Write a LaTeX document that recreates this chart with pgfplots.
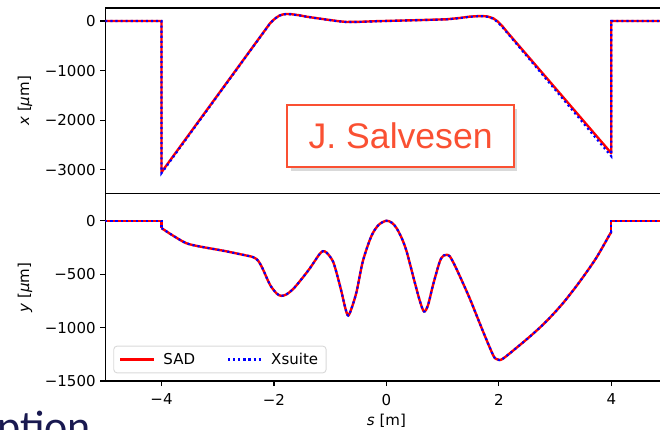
\documentclass[border=0pt]{standalone}
\usepackage{pgfplots}
\pgfplotsset{compat=1.18}
\usepackage{fontspec}
\setmainfont{DejaVu Sans}
\newfontfamily\salfont{Liberation Sans}
\newfontfamily\slidefont{Carlito}
\usetikzlibrary{shadows}
\definecolor{salred}{RGB}{250,80,50}
\definecolor{navy}{RGB}{25,25,80}

\pgfplotsset{
  myaxis/.style={
    scale only axis, width=421.65pt, xmin=-5, xmax=5,
    tick pos=left, tick align=outside, major tick length=3.75pt,
    every tick/.style={black, line width=0.8pt},
    axis line style={black, line width=0.8pt},
    tick label style={font=\fontsize{11.25}{13}\selectfont},
    every axis y label/.style={at={(axis description cs:-0.1428,0.5)}, rotate=90, anchor=center,
      font=\fontsize{11.25}{13}\selectfont},
  },
  sad/.style={red, line width=1.8pt, line join=round},
  xs/.style={color=blue, line width=1.6pt, dash pattern=on 1.6pt off 2.2pt},
}

\begin{document}
\begin{tikzpicture}
% ---------- top panel ----------
\begin{axis}[myaxis,
  at={(78.98pt,176.48pt)}, anchor=south west, height=139.28pt,
  ymin=-3484, ymax=262,
  xtick=\empty,
  ytick={-3000,-2000,-1000,0}, yticklabels={−3000,−2000,−1000,0},
  ylabel={{\itshape x} [{\itshape μ}m]},
]
\addplot[sad] coordinates {
(-5,0) (-4,0) (-4,-3050) (-2.07,-47) (-2.02,10) (-1.96,67) (-1.9,110) (-1.84,132)
(-1.78,141) (-1.7,138) (-1.55,115) (-1.42,87) (-1.2,50) (-1.01,20) (-0.85,-5)
(-0.71,-20) (-0.5,-18) (-0.2,-5) (0.18,6) (0.6,18) (1.07,34) (1.3,60) (1.48,87)
(1.62,97) (1.71,100) (1.8,90) (1.90,54) (1.98,-10) (2.07,-115) (2.13,-200)
(4,-2668) (4,0) (5,0)};
\addplot[xs] coordinates {
(-5,0) (-4,0) (-4,-3070) (-2.07,-50) (-2.02,8) (-1.96,65) (-1.9,108) (-1.84,130)
(-1.78,139) (-1.7,136) (-1.55,113) (-1.42,85) (-1.2,48) (-1.01,18) (-0.85,-7)
(-0.71,-22) (-0.5,-20) (-0.2,-7) (0.18,4) (0.6,16) (1.07,32) (1.3,57) (1.48,84)
(1.62,94) (1.71,96) (1.8,84) (1.90,44) (1.98,-25) (2.07,-135) (2.13,-215)
(4,-2730) (4,0) (5,0)};
\end{axis}
% ---------- bottom panel ----------
\begin{axis}[myaxis,
  at={(78.98pt,36pt)}, anchor=south west, height=140.48pt,
  ymin=-1500, ymax=253,
  xtick={-4,-2,0,2,4}, xticklabels={−4,−2,0,2,4},
  xticklabel style={yshift=-2.5pt},
  ytick={-1500,-1000,-500,0}, yticklabels={−1500,−1000,−500,0},
  ylabel={{\itshape y} [{\itshape μ}m]},
  xlabel={{\itshape s} [m]},
  every axis x label/.style={at={(axis description cs:0.5,-0.212)}, anchor=center,
    font=\fontsize{11.25}{13}\selectfont},
  legend columns=2,
  legend style={at={(axis description cs:0.0142,0.041)}, anchor=south west,
    draw=black!15, rounded corners=2.5pt, fill=white, fill opacity=0.8, text opacity=1,
    draw opacity=1,
    line width=0.7pt, font=\fontsize{11.25}{13}\selectfont,
    inner xsep=4pt, inner ysep=3pt,
    /tikz/every even column/.append style={column sep=22pt}},
  legend image code/.code={\draw[#1, opacity=1] (0pt,0pt) -- (25.5pt,0pt); \path (29.5pt,0pt);},
]
\addplot[sad, smooth, tension=0.5] coordinates {
(-4.0,-69) (-3.8,-138) (-3.56,-210) (-3.32,-241) (-2.9,-281) (-2.55,-319) (-2.37,-341)
(-2.28,-375) (-2.2,-450) (-2.07,-600) (-1.95,-682) (-1.87,-703) (-1.78,-690)
(-1.66,-640) (-1.5,-540) (-1.36,-444) (-1.2,-320) (-1.13,-285) (-1.06,-300)
(-0.95,-381) (-0.87,-520) (-0.80,-663) (-0.73,-820) (-0.68,-888) (-0.62,-820)
(-0.53,-663) (-0.42,-381) (-0.27,-147) (-0.14,-40) (0,0) (0.1,-20) (0.18,-69)
(0.27,-160) (0.36,-288) (0.50,-569) (0.6,-760) (0.67,-850) (0.74,-790) (0.83,-600)
(0.95,-381) (1.02,-325) (1.07,-319) (1.13,-335) (1.24,-444) (1.48,-725) (1.72,-1038)
(1.90,-1260) (1.96,-1295) (2.01,-1304) (2.07,-1292) (2.19,-1243) (2.55,-1085) (2.84,-944)
(3.14,-772) (3.44,-569) (3.73,-350) (3.97,-131) (4.0,-110)};
\addplot[sad, forget plot] coordinates {(-5,0) (-4,0) (-4,-69)};
\addplot[sad, forget plot] coordinates {(4,-110) (4,0) (5,0)};
\addplot[xs, smooth, tension=0.5] coordinates {
(-4.0,-69) (-3.8,-138) (-3.56,-210) (-3.32,-241) (-2.9,-281) (-2.55,-319) (-2.37,-341)
(-2.28,-375) (-2.2,-450) (-2.07,-600) (-1.95,-682) (-1.87,-703) (-1.78,-690)
(-1.66,-640) (-1.5,-540) (-1.36,-444) (-1.2,-320) (-1.13,-285) (-1.06,-300)
(-0.95,-381) (-0.87,-520) (-0.80,-663) (-0.73,-820) (-0.68,-888) (-0.62,-820)
(-0.53,-663) (-0.42,-381) (-0.27,-147) (-0.14,-40) (0,0) (0.1,-20) (0.18,-69)
(0.27,-160) (0.36,-288) (0.50,-569) (0.6,-760) (0.67,-850) (0.74,-790) (0.83,-600)
(0.95,-381) (1.02,-325) (1.07,-319) (1.13,-335) (1.24,-444) (1.48,-725) (1.72,-1038)
(1.90,-1260) (1.96,-1295) (2.01,-1304) (2.07,-1292) (2.19,-1243) (2.55,-1085) (2.84,-944)
(3.14,-772) (3.44,-569) (3.73,-350) (3.97,-131) (4.0,-110)};
\addplot[xs, forget plot] coordinates {(-5,0) (-4,0) (-4,-69)};
\addplot[xs, forget plot] coordinates {(4,-110) (4,0) (5,0)};
\legend{SAD,Xsuite}
\end{axis}
% ---------- overlay annotation ----------
\node[draw=salred, line width=1.5pt, fill=white, minimum width=170pt, minimum height=47pt,
  inner sep=0pt, text=salred, font=\salfont\fontsize{26.7}{30}\selectfont,
  drop shadow={shadow xshift=2.5pt, shadow yshift=-3pt, opacity=0.3}]
  at (300.5pt,219.75pt) {J. Salvesen};
\node[anchor=base west, inner sep=0pt, text=navy, font=\slidefont\fontsize{33}{36}\selectfont]
  at (-2.25pt,-9.5pt) {ption};
\pgfresetboundingbox
\useasboundingbox (0,0) rectangle (495pt,321.75pt);
\end{tikzpicture}
\end{document}
